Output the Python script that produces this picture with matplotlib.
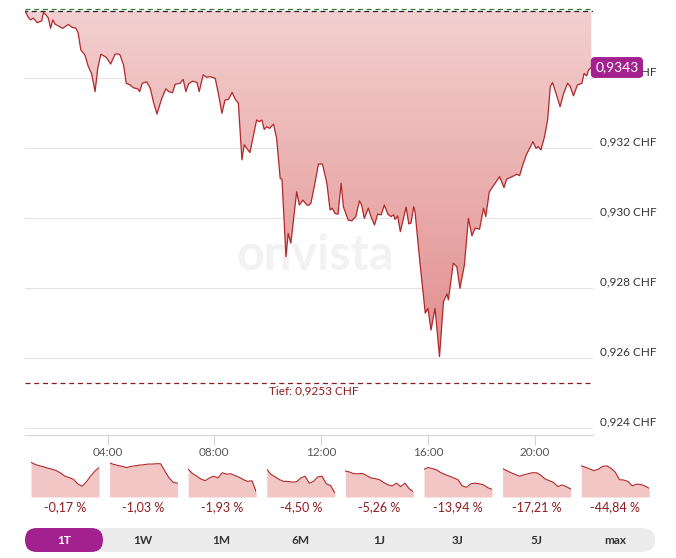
import matplotlib
matplotlib.use("Agg")
import matplotlib.pyplot as plt
import matplotlib.transforms as mtransforms
import numpy as np
import pandas as pd
from matplotlib.colors import LinearSegmentedColormap
from matplotlib.patches import Polygon, FancyBboxPatch
from matplotlib.ticker import FuncFormatter

plt.rcParams["font.family"] = ["Lato", "DejaVu Sans"]

# Intraday-Kurs (1T)
times = ["00:55", "01:02", "01:07", "01:13", "01:22", "01:32", "01:36", "01:42", "01:47", "01:52",
         "01:57", "02:02", "02:12", "02:19", "02:32", "02:40", "02:49", "02:54", "03:00", "03:09",
         "03:17", "03:24", "03:32", "03:38", "03:45", "03:57", "04:07", "04:17", "04:23", "04:28",
         "04:36", "04:42", "04:51", "04:58", "05:08", "05:12", "05:18", "05:28", "05:36", "05:43",
         "05:51", "06:02", "06:11", "06:18", "06:26", "06:32", "06:43", "06:50", "06:56", "07:02",
         "07:11", "07:21", "07:26", "07:35", "07:43", "07:50", "08:02", "08:09", "08:17", "08:24",
         "08:32", "08:40", "08:47", "08:54", "09:02", "09:07", "09:20", "09:35", "09:41", "09:47",
         "09:52", "09:58", "10:04", "10:13", "10:20", "10:28", "10:32", "10:41", "10:46", "10:52",
         "11:05", "11:11", "11:19", "11:28", "11:33", "11:37", "11:46", "11:54", "12:03", "12:13",
         "12:20", "12:25", "12:31", "12:38", "12:45", "12:50", "13:01", "13:09", "13:18", "13:26",
         "13:31", "13:37", "13:46", "13:52", "14:00", "14:07", "14:15", "14:22", "14:30", "14:37",
         "14:43", "14:46", "14:52", "14:58", "15:05", "15:11", "15:17", "15:22", "15:28", "15:31",
         "15:43", "15:54", "16:00", "16:07", "16:16", "16:26", "16:35", "16:43", "16:46", "16:57",
         "17:05", "17:12", "17:22", "17:31", "17:39", "17:46", "17:56", "18:05", "18:10", "18:18",
         "18:31", "18:41", "18:51", "18:57", "19:09", "19:20", "19:26", "19:33", "19:41", "19:56",
         "20:03", "20:08", "20:14", "20:22", "20:29", "20:35", "20:40", "20:48", "20:57", "21:05",
         "21:14", "21:20", "21:27", "21:36", "21:46", "21:51", "21:57", "22:01", "22:07"]
prices = [0.93591, 0.93573, 0.93566, 0.93571, 0.93558, 0.93563, 0.93587, 0.93580, 0.93571, 0.93542,
          0.93566, 0.93554, 0.93547, 0.93542, 0.93553, 0.93545, 0.93542, 0.93528, 0.93480, 0.93466,
          0.93432, 0.93413, 0.93361, 0.93428, 0.93468, 0.93459, 0.93440, 0.93468, 0.93469, 0.93466,
          0.93437, 0.93385, 0.93380, 0.93372, 0.93369, 0.93361, 0.93385, 0.93389, 0.93371, 0.93332,
          0.93297, 0.93342, 0.93369, 0.93361, 0.93358, 0.93382, 0.93385, 0.93396, 0.93361, 0.93383,
          0.93391, 0.93387, 0.93361, 0.93409, 0.93402, 0.93404, 0.93399, 0.93356, 0.93299, 0.93337,
          0.93339, 0.93359, 0.93339, 0.93328, 0.93166, 0.93209, 0.93187, 0.93280, 0.93275, 0.93280,
          0.93253, 0.93261, 0.93256, 0.93268, 0.93228, 0.93113, 0.93111, 0.92889, 0.92956, 0.92928,
          0.93075, 0.93037, 0.93051, 0.93037, 0.93037, 0.93042, 0.93099, 0.93154, 0.93154, 0.93099,
          0.93023, 0.93028, 0.93013, 0.93011, 0.93099, 0.93032, 0.92994, 0.92992, 0.93004, 0.93049,
          0.93037, 0.92999, 0.93028, 0.93004, 0.92980, 0.93011, 0.93009, 0.93037, 0.93011, 0.93004,
          0.93009, 0.92996, 0.93006, 0.92961, 0.92999, 0.93031, 0.92983, 0.92986, 0.93032, 0.93018,
          0.92861, 0.92728, 0.92742, 0.92680, 0.92742, 0.92604, 0.92761, 0.92783, 0.92766, 0.92871,
          0.92861, 0.92799, 0.92866, 0.92999, 0.92949, 0.92971, 0.92968, 0.93028, 0.93004, 0.93075,
          0.93099, 0.93118, 0.93087, 0.93111, 0.93118, 0.93125, 0.93121, 0.93151, 0.93180, 0.93218,
          0.93199, 0.93204, 0.93194, 0.93232, 0.93280, 0.93375, 0.93387, 0.93356, 0.93318, 0.93356,
          0.93385, 0.93375, 0.93349, 0.93380, 0.93385, 0.93413, 0.93406, 0.93423, 0.93430]

hoch = 0.93597
vortag = 0.93591
tief = 0.9253
last_label = "0,9343"
y_ticks = [0.924, 0.926, 0.928, 0.930, 0.932, 0.934]
x_ticks = ["04:00", "08:00", "12:00", "16:00", "20:00"]

# Mini-Charts pro Zeitraum
spark_1t = [100, 94, 90, 87, 83, 80, 76, 69, 60, 56, 51, 38, 31, 43, 60, 74, 85]
spark_1w = [98, 94, 91, 88, 85, 88, 90, 92, 93, 95, 95, 96, 96, 75, 55, 42, 40]
spark_1m = [80, 68, 60, 52, 47, 55, 60, 55, 70, 66, 67, 62, 57, 50, 45, 47, 15]
spark_6m = [80, 65, 58, 50, 45, 45, 43, 44, 55, 60, 40, 45, 58, 60, 38, 33, 12]
spark_1j = [75, 72, 67, 67, 68, 62, 55, 53, 50, 42, 35, 32, 40, 30, 40, 24, 15]
spark_3j = [80, 85, 82, 78, 70, 65, 60, 55, 50, 32, 28, 38, 40, 38, 35, 27, 22]
spark_5j = [82, 76, 70, 65, 60, 64, 67, 70, 70, 63, 52, 47, 42, 30, 35, 30, 23]
spark_max = [90, 86, 81, 76, 80, 88, 90, 83, 72, 50, 49, 45, 32, 37, 36, 32, 25]
sparks = [spark_1t, spark_1w, spark_1m, spark_6m, spark_1j, spark_3j, spark_5j, spark_max]
changes = ["-0,17 %", "-1,03 %", "-1,93 %", "-4,50 %", "-5,26 %", "-13,94 %", "-17,21 %", "-44,84 %"]
periods = ["1T", "1W", "1M", "6M", "1J", "3J", "5J", "max"]

W, H = 676, 558
LINE = "#b0282a"
DARKRED = "#8e1b1f"
PURPLE = "#a3218f"

t = pd.to_timedelta([s + ":00" for s in times]).total_seconds().values / 60.0
p = np.array(prices)

fig = plt.figure(figsize=(W / 100, H / 100), dpi=100)

def px_axes(x0, y0, x1, y1):
    return fig.add_axes([x0 / W, 1 - y1 / H, (x1 - x0) / W, (y1 - y0) / H])

ax = px_axes(25, 8, 593, 435)
ymin, ymax = 0.9238, 0.9360
xmin, xmax = 54.5, 1331
ax.set_xlim(xmin, xmax)
ax.set_ylim(ymin, ymax)

# Wasserzeichen
ax.text(0.51, 0.42, "onvista", transform=ax.transAxes, fontsize=35, fontweight="bold",
        color="#f2f2f2", ha="center", va="center", zorder=0)

# Fläche zwischen Kurs und Vortageslinie mit Verlauf
verts = np.column_stack([np.r_[t, t[::-1]], np.r_[p, np.full(len(t), vortag)]])
poly = Polygon(verts, closed=True, facecolor="none", edgecolor="none")
ax.add_patch(poly)
cmap = LinearSegmentedColormap.from_list("fill", ["#e28f8f", "#f3cfcf"])
grad = np.linspace(0, 1, 256).reshape(-1, 1)
im = ax.imshow(grad, extent=[xmin, xmax, tief + 0.0008, vortag], origin="lower",
               aspect="auto", cmap=cmap, zorder=1)
im.set_clip_path(poly)
ax.plot(t, p, color=LINE, lw=0.9, zorder=3)

ax.axhline(hoch, color="#2e7d32", lw=0.9, ls=(0, (4, 3)), zorder=4)
ax.axhline(vortag, color="#222222", lw=0.9, ls=(2, (4, 3)), zorder=4)
ax.axhline(tief, color=DARKRED, lw=0.9, ls=(0, (4, 3)), zorder=4)
ax.text(0.508, tief - 0.00025, "Tief: 0,9253 CHF", transform=ax.get_yaxis_transform(),
        color=DARKRED, fontsize=8.5, ha="center", va="center")

ax.set_yticks(y_ticks)
ax.yaxis.tick_right()
ax.yaxis.set_major_formatter(FuncFormatter(lambda v, _: f"{v:.3f}".replace(".", ",") + " CHF"))
ax.tick_params(axis="y", length=0, pad=5, labelsize=8.5, labelcolor="#333333")
up = mtransforms.ScaledTranslation(0, 0.07, fig.dpi_scale_trans)
for lbl in ax.get_yticklabels():
    lbl.set_transform(lbl.get_transform() + up)
ax.grid(axis="y", color="#e3e3e3", lw=0.8)
ax.set_axisbelow(True)

tick_min = pd.to_timedelta([s + ":00" for s in x_ticks]).total_seconds().values / 60.0
ax.set_xticks(tick_min)
ax.set_xticklabels(x_ticks)
ax.tick_params(axis="x", length=7, width=0.8, color="#d5d5d5", labelsize=8.5,
               labelcolor="#555555", pad=2)
for side in ["top", "left", "right"]:
    ax.spines[side].set_visible(False)
ax.spines["bottom"].set_color("#d5d5d5")
ax.spines["bottom"].set_linewidth(0.8)

# Kurs-Badge
ax.text(1.004, p[-1], last_label, transform=ax.get_yaxis_transform(), fontsize=10,
        color="white", ha="left", va="center", zorder=6,
        bbox=dict(boxstyle="round,pad=0.32,rounding_size=0.3", fc=PURPLE, ec="none"))

# Mini-Charts
for i, vals in enumerate(sparks):
    x0 = 31 + i * 78.6
    sax = px_axes(x0, 462, x0 + 68, 497)
    xs = np.arange(len(vals))
    sax.fill_between(xs, vals, 0, color="#f3c6c6", lw=0)
    sax.plot(xs, vals, color=LINE, lw=0.8)
    sax.set_xlim(0, len(vals) - 1)
    sax.set_ylim(0, 101)
    sax.axis("off")
    fig.text((x0 + 34) / W, 1 - 507 / H, changes[i], color=DARKRED, fontsize=9,
             ha="center", va="center")

# Zeitraum-Buttons
bax = fig.add_axes([0, 0, 1, 1], zorder=-1)
bax.set_xlim(0, W)
bax.set_ylim(H, 0)
bax.axis("off")
bax.add_patch(FancyBboxPatch((25, 528), 630, 24, boxstyle="round,pad=0,rounding_size=12",
                             fc="#ececec", ec="none"))
bax.add_patch(FancyBboxPatch((25, 528), 78, 24, boxstyle="round,pad=0,rounding_size=12",
                             fc=PURPLE, ec="none"))
for i, lab in enumerate(periods):
    bax.text(64 + i * 78.7, 540.5, lab, ha="center", va="center", fontsize=8.5,
             fontweight="bold", color="white" if i == 0 else "#333333")

fig.savefig("out.png", dpi=100)
